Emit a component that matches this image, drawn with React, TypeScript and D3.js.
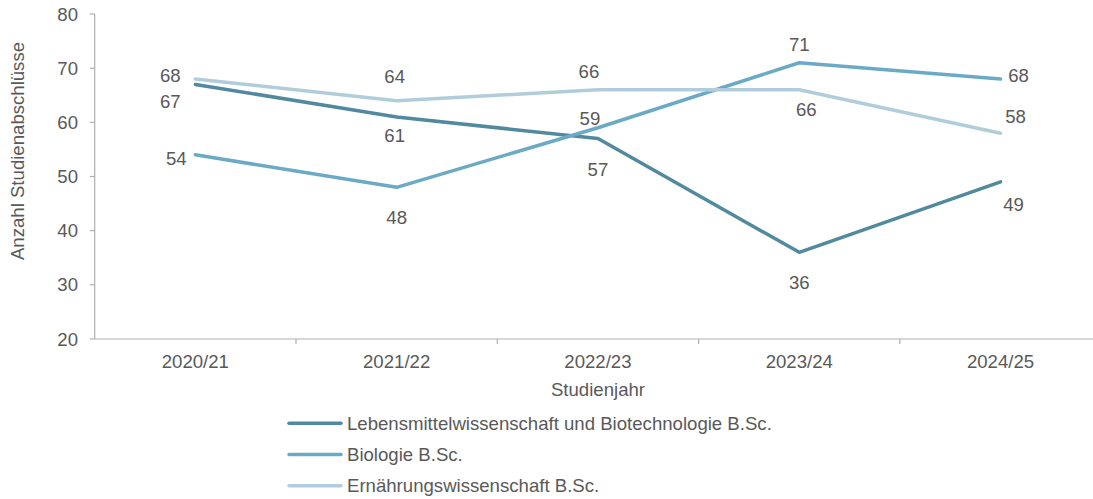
import React from "react";
import * as d3 from "d3";

const categories = ["2020/21", "2021/22", "2022/23", "2023/24", "2024/25"];
const seriesNames = [
  "Lebensmittelwissenschaft und Biotechnologie B.Sc.",
  "Biologie B.Sc.",
  "Ernährungswissenschaft B.Sc.",
];
const lebensmittel = [67, 61, 57, 36, 49];
const biologie = [54, 48, 59, 71, 68];
const ernaehrung = [68, 64, 66, 66, 58];
const yTicks = [20, 30, 40, 50, 60, 70, 80];

const colors = ["#518a9f", "#6aaac4", "#b1cddb"];
// label offsets (dx, dy) relative to each point
const labelOffsets = [
  [[-25, 17], [-2, 19], [0, 31], [0, 30], [13, 23]],
  [[-19, 4], [0, 30], [-8, -9], [0, -18], [18, -4]],
  [[-25, -4], [-2, -24], [-9, -18], [7, 20], [15, -17]],
];

const W = 1093;
const H = 499;
const TEXT = "#595959";
const AXIS = "#b0b0b0";
const FONT = "'Liberation Sans', Arial, sans-serif";
const FS = 18.6;

export default function App() {
  const x = d3.scaleBand<string>().domain(categories).range([94.7, 1101.2]);
  const y = d3.scaleLinear().domain([20, 80]).range([339, 14]);
  const cx = (c: string) => (x(c) as number) + x.bandwidth() / 2;
  const data = [lebensmittel, biologie, ernaehrung];
  const line = d3
    .line<number>()
    .x((_, i) => cx(categories[i]))
    .y((d) => y(d));
  const x0 = 94.7;
  const yBottom = y(20);

  return (
    <svg
      width={W}
      height={H}
      style={{ position: "absolute", left: 0, top: 0, background: "#fff" }}
      fontFamily={FONT}
    >
      {/* y axis */}
      <line x1={x0} x2={x0} y1={y(80)} y2={yBottom} stroke={AXIS} strokeWidth={1.2} />
      {yTicks.map((t) => (
        <g key={t}>
          <line x1={x0 - 5} x2={x0} y1={y(t)} y2={y(t)} stroke={AXIS} strokeWidth={1.2} />
          <text
            x={78}
            y={y(t)}
            dy="0.35em"
            textAnchor="end"
            fontSize={FS}
            fill={TEXT}
          >
            {t}
          </text>
        </g>
      ))}
      {/* x axis */}
      <line x1={x0} x2={W} y1={yBottom} y2={yBottom} stroke={AXIS} strokeWidth={1.2} />
      {categories.map((c, i) => (
        <g key={c}>
          {i > 0 && (
            <line
              x1={x(c) as number}
              x2={x(c) as number}
              y1={yBottom}
              y2={yBottom + 5}
              stroke={AXIS}
              strokeWidth={1.2}
            />
          )}
          <text x={cx(c)} y={367.5} textAnchor="middle" fontSize={FS} fill={TEXT}>
            {c}
          </text>
        </g>
      ))}
      <text x={598} y={396} textAnchor="middle" fontSize={FS} fill={TEXT}>
        Studienjahr
      </text>
      <text
        transform={`translate(24,151) rotate(-90)`}
        textAnchor="middle"
        fontSize={FS}
        fill={TEXT}
      >
        Anzahl Studienabschlüsse
      </text>

      {/* lines */}
      {data.map((s, si) => (
        <path
          key={si}
          d={line(s) as string}
          fill="none"
          stroke={colors[si]}
          strokeWidth={3.5}
          strokeLinejoin="round"
          strokeLinecap="round"
        />
      ))}
      {/* labels */}
      {data.map((s, si) =>
        s.map((v, i) => (
          <text
            key={`${si}-${i}`}
            x={cx(categories[i]) + labelOffsets[si][i][0]}
            y={y(v) + labelOffsets[si][i][1]}
            dy="0.35em"
            textAnchor="middle"
            fontSize={FS}
            fill={TEXT}
          >
            {v}
          </text>
        ))
      )}

      {/* legend */}
      {seriesNames.map((n, i) => {
        const ly = 423.3 + i * 31.2;
        return (
          <g key={n}>
            <line
              x1={289}
              x2={341}
              y1={ly}
              y2={ly}
              stroke={colors[i]}
              strokeWidth={3.5}
              strokeLinecap="round"
            />
            <text x={347} y={ly} dy="0.35em" fontSize={FS} fill={TEXT}>
              {n}
            </text>
          </g>
        );
      })}
    </svg>
  );
}
